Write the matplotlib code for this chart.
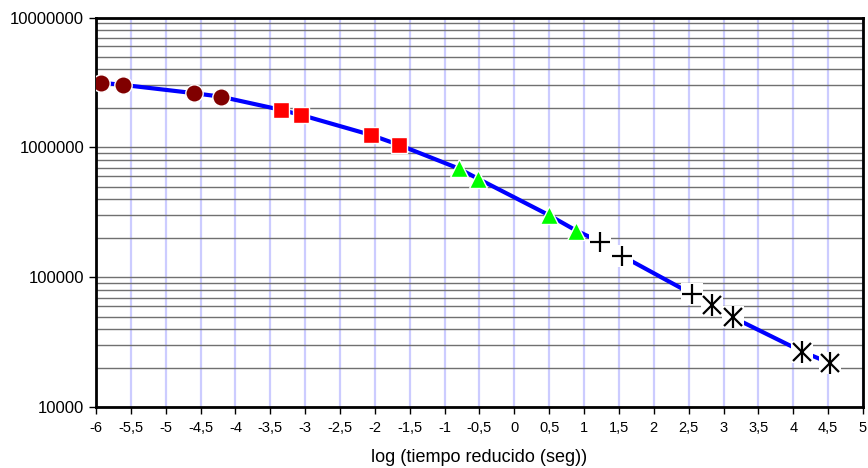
import numpy as np
import matplotlib
matplotlib.use("Agg")
import matplotlib.pyplot as plt
from matplotlib.ticker import LogLocator, FuncFormatter, NullFormatter

plt.rcParams['font.family'] = ['Liberation Sans', 'DejaVu Sans']

# data
circ_x = [-5.93, -5.61, -4.60, -4.21]
circ_y = [3.15e6, 3.03e6, 2.62e6, 2.46e6]
sq_x = [-3.35, -3.06, -2.06, -1.65]
sq_y = [1.95e6, 1.78e6, 1.25e6, 1.045e6]
tri_x = [-0.80, -0.52, 0.49, 0.89]
tri_y = [6.9e5, 5.75e5, 3.03e5, 2.29e5]
plus_x = [1.23, 1.55, 2.55]
plus_y = [1.88e5, 1.46e5, 7.45e4]
ast_x = [2.83, 3.13, 4.13, 4.53]
ast_y = [6.1e4, 4.95e4, 2.69e4, 2.19e4]

x_ticks = np.arange(-6, 5.01, 0.5)
y_ticks = [1e4, 1e5, 1e6, 1e7]

fig = plt.figure(figsize=(8.68, 4.68), dpi=100)
ax = fig.add_axes([0.1106, 0.1293, 0.8836, 0.8333])

# master curve through all points
all_x = circ_x + sq_x + tri_x + plus_x + ast_x
all_y = circ_y + sq_y + tri_y + plus_y + ast_y
ax.plot(all_x, all_y, color='#0000ff', lw=3, zorder=3, solid_capstyle='butt')

ax.plot(circ_x, circ_y, 'o', color='#800000', ms=12.5, mec='white', mew=1, zorder=4)
ax.plot(sq_x, sq_y, 's', color='#ff0000', ms=12, mec='white', mew=1, zorder=4)
ax.plot(tri_x, tri_y, '^', color='#00ff00', ms=13.5, mec='white', mew=1, zorder=4)

# white boxes behind the line-style markers
ax.plot(plus_x + ast_x, plus_y + ast_y, 's', color='white', ms=16, mew=0, zorder=4)
ax.plot(plus_x, plus_y, '+', color='black', ms=15, mew=1.6, zorder=5)
ax.plot(ast_x, ast_y, 'x', color='black', ms=13, mew=1.6, zorder=5)
ax.plot(ast_x, ast_y, '|', color='black', ms=16, mew=1.6, zorder=5)

ax.set_xlim(-6, 5)
ax.set_yscale('log')
ax.set_ylim(1e4, 1e7)

ax.set_xticks(x_ticks)
ax.set_xticklabels([f"{v:g}".replace('.', ',') for v in x_ticks], fontsize=10.5)
ax.set_yticks(y_ticks)
ax.yaxis.set_major_formatter(FuncFormatter(lambda v, p: f"{int(round(v))}"))
ax.yaxis.set_minor_locator(LogLocator(base=10, subs=np.arange(2, 10)))
ax.yaxis.set_minor_formatter(NullFormatter())
ax.tick_params(axis='y', which='minor', length=0)
ax.tick_params(axis='both', which='major', direction='out', length=5, width=1, color='black')
ax.tick_params(axis='y', labelsize=12)
ax.tick_params(axis='x', pad=5)

ax.grid(axis='x', which='major', color='#ccccff', lw=1.6, zorder=0)
ax.grid(axis='y', which='both', color='#707070', lw=1, zorder=0)
ax.set_axisbelow(True)

for s in ax.spines.values():
    s.set_linewidth(2)
    s.set_color('black')

ax.set_xlabel('log (tiempo reducido (seg))', fontsize=13, labelpad=10)

fig.savefig('out.png', dpi=100)
